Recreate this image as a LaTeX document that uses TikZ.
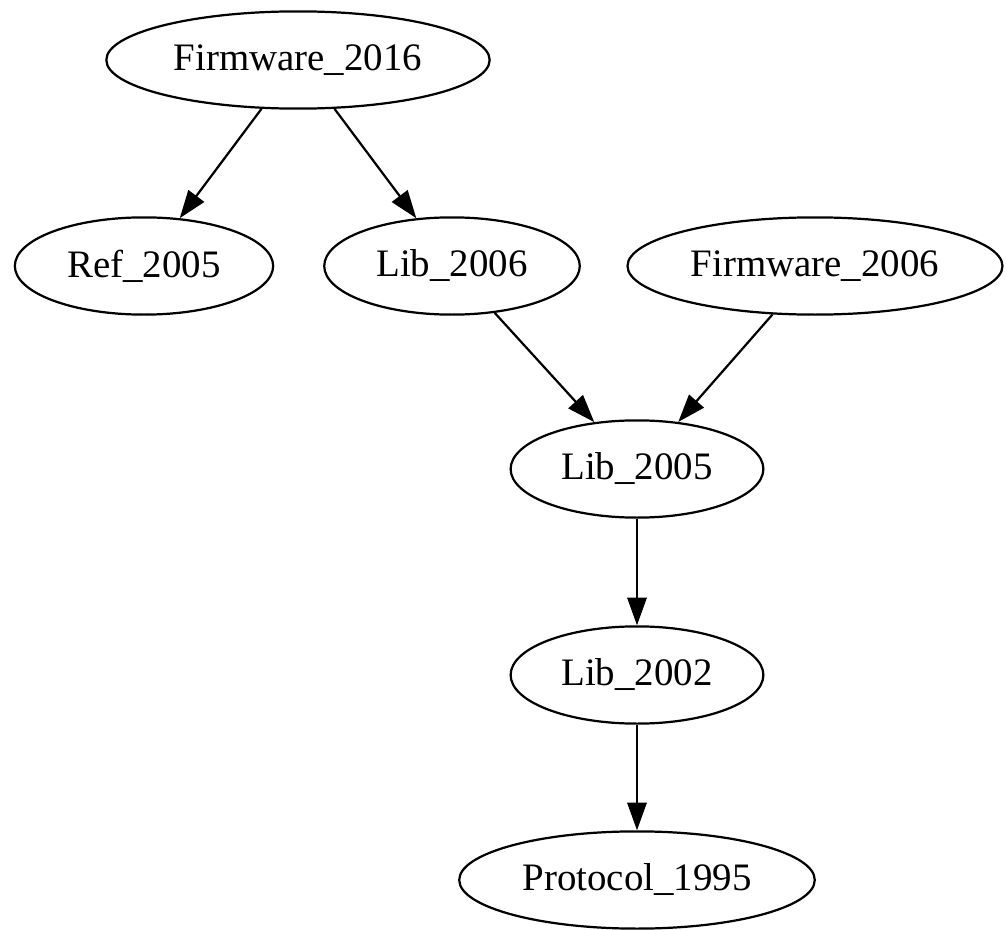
\documentclass[tikz,border=0pt]{standalone}
\usepackage{fontspec}
\setmainfont{Liberation Serif}
\usetikzlibrary{shapes.geometric,arrows.meta}

\tikzset{
  pkg/.style={draw, ellipse, line width=0.8pt, inner sep=0pt,
    minimum height=35pt, minimum width=#1,
    font=\fontsize{14}{17}\selectfont},
  dep/.style={->, line width=0.8pt}
}

\begin{document}
\begin{tikzpicture}[x=0.36pt, y=-0.36pt, >={Triangle[length=10pt,width=7pt]}]
\useasboundingbox (0,0) rectangle (1006,930);

\node[pkg=138pt] (fw16) at (298,60) {Firmware\_2016};
\node[pkg=93pt] (ref05) at (144,266) {Ref\_2005};
\node[pkg=92pt] (lib06) at (452,266) {Lib\_2006};
\node[pkg=135pt] (fw06) at (815,266) {Firmware\_2006};
\node[pkg=91pt] (lib05) at (637,469) {Lib\_2005};
\node[pkg=91pt] (lib02) at (637,675) {Lib\_2002};
\node[pkg=128pt] (prot95) at (637,880) {Protocol\_1995};

\draw[dep] (fw16) -- (ref05);
\draw[dep] (fw16) -- (lib06);
\draw[dep] (lib06) -- (lib05);
\draw[dep] (fw06) -- (lib05);
\draw[dep] (lib05) -- (lib02);
\draw[dep] (lib02) -- (prot95);

\end{tikzpicture}
\end{document}
